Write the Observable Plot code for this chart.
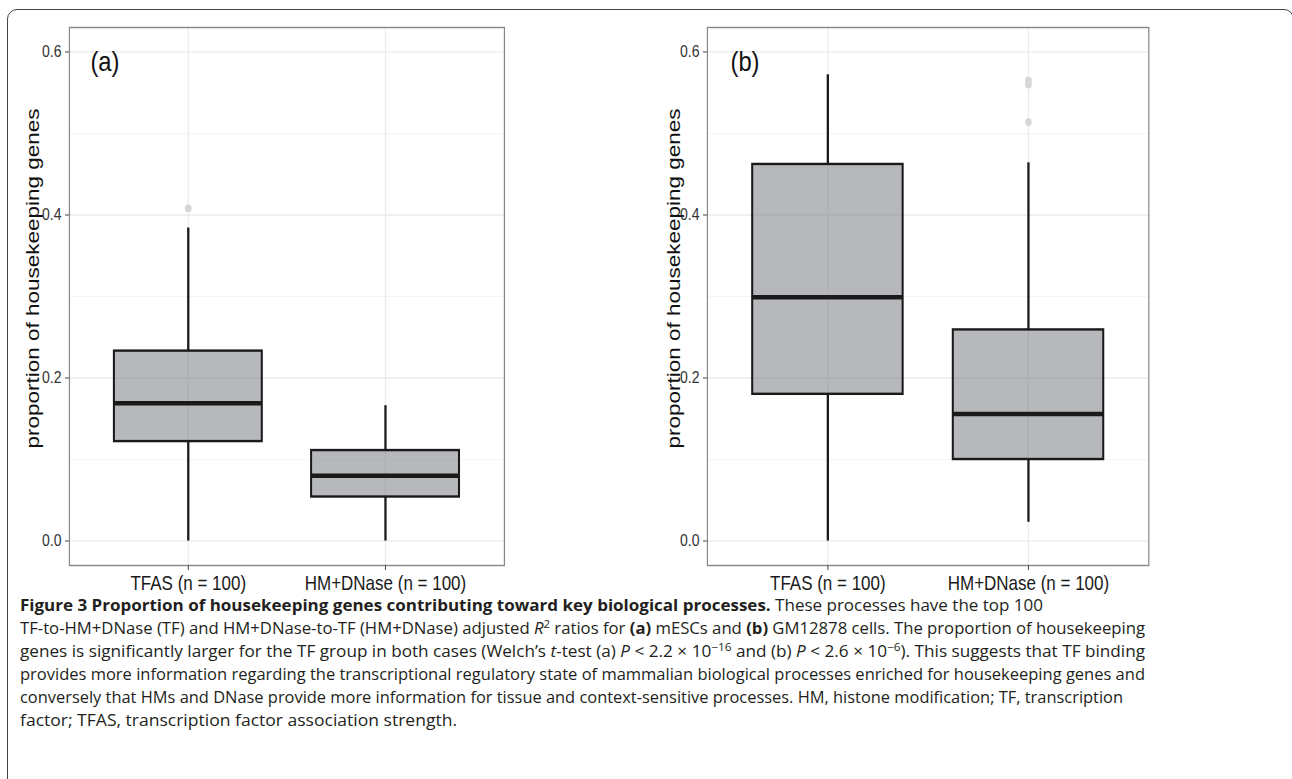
<!DOCTYPE html>
<html>
<head>
<meta charset="utf-8">
<script src="https://cdn.jsdelivr.net/npm/d3@7"></script>
<script src="https://cdn.jsdelivr.net/npm/@observablehq/plot@0.6"></script>
<style>
  html, body { margin: 0; padding: 0; background: #fff; }
  body { width: 1292px; height: 779px; position: relative; overflow: hidden; }
  #frame { position: absolute; left: 7px; top: 9px; width: 1287px; height: 790px; box-sizing: border-box;
           border: 1.5px solid #444; border-radius: 10px; }
  .panel { position: absolute; top: 0; width: 800px; height: 605px; transform-origin: 0 0; transform: scaleX(0.85); }
  .panel svg { max-width: none !important; height: 605px !important; }
  #caption { position: absolute; left: 20px; top: 593.5px; font-family: "Open Sans", sans-serif; font-size: 16px;
             line-height: 23px; color: #231f20; white-space: nowrap; }
  #caption div { white-space: nowrap; width: max-content; transform-origin: 0 0; }
  #caption sup { font-size: 11px; line-height: 0; vertical-align: 6px; }
</style>
</head>
<body>
<div id="frame"></div>
<div id="pa" class="panel" style="left:0px"></div>
<div id="pb" class="panel" style="left:640px"></div>
<div id="caption">
  <div data-w="1043"><b>Figure 3 Proportion of housekeeping genes contributing toward key biological processes.</b> These processes have the top 100</div>
  <div data-w="1145">TF-to-HM+DNase (TF) and HM+DNase-to-TF (HM+DNase) adjusted <i>R</i><sup>2</sup> ratios for <b>(a)</b> mESCs and <b>(b)</b> GM12878 cells. The proportion of housekeeping</div>
  <div data-w="1145">genes is significantly larger for the TF group in both cases (Welch’s <i>t</i>-test (a) <i>P</i> &lt; 2.2 × 10<sup>−16</sup> and (b) <i>P</i> &lt; 2.6 × 10<sup>−6</sup>). This suggests that TF binding</div>
  <div data-w="1145">provides more information regarding the transcriptional regulatory state of mammalian biological processes enriched for housekeeping genes and</div>
  <div data-w="1123">conversely that HMs and DNase provide more information for tissue and context-sensitive processes. HM, histone modification; TF, transcription</div>
  <div data-w="457">factor; TFAS, transcription factor association strength.</div>
</div>
<script>
// ---- data ----
const categories = ["TFAS (n = 100)", "HM+DNase (n = 100)"];
const panelLabels = ["(a)", "(b)"];
const yLabel = "proportion of housekeeping genes";
const yTicks = [0.0, 0.2, 0.4, 0.6];
const yMinorTicks = [0.1, 0.3, 0.5];

// panel (a): mESCs
const lowerA = [0.000, 0.000];
const q1A = [0.122, 0.054];
const medianA = [0.169, 0.080];
const q3A = [0.233, 0.111];
const upperA = [0.384, 0.166];
const outliersA = [[0.408], []];

// panel (b): GM12878
const lowerB = [0.000, 0.023];
const q1B = [0.180, 0.100];
const medianB = [0.299, 0.156];
const q3B = [0.462, 0.259];
const upperB = [0.572, 0.464];
const outliersB = [[], [0.565, 0.560, 0.514]];

const S = 0.85; // horizontal compression of the figure

function panel(label, lo, q1, med, q3, hi, outl, opt) {
  const rows = categories.map((c, i) => ({cat: c, lo: lo[i], q1: q1[i], med: med[i], q3: q3[i], hi: hi[i]}));
  const pts = categories.flatMap((c, i) => outl[i].map(v => ({cat: c, v})));
  const dark = "#1a1a1a";
  return Plot.plot({
    width: opt.width / S,
    height: 605,
    marginLeft: opt.left / S,
    marginRight: (opt.width - opt.right) / S,
    marginTop: 27,
    marginBottom: 40,
    style: {fontFamily: "'Liberation Sans', Arial, sans-serif", fontSize: "16.5px", color: "#333", background: "transparent", overflow: "visible"},
    x: {type: "band", domain: categories, paddingInner: 0.25, paddingOuter: 0.225, axis: null},
    y: {domain: [-0.03, 0.63], axis: null},
    marks: [
      Plot.ruleY(yMinorTicks, {stroke: "#f3f3f3", strokeWidth: 0.9}),
      Plot.ruleY(yTicks, {stroke: "#ebebeb", strokeWidth: 1.3}),
      Plot.ruleX(categories, {x: d => d, stroke: "#ebebeb", strokeWidth: 1.5}),
      Plot.ruleX(rows, {x: "cat", y1: "q3", y2: "hi", stroke: dark, strokeWidth: 2.7}),
      Plot.ruleX(rows, {x: "cat", y1: "lo", y2: "q1", stroke: dark, strokeWidth: 2.7}),
      Plot.barY(rows, {x: "cat", y1: "q1", y2: "q3", fill: "#6f7177", fillOpacity: 0.5, stroke: dark, strokeWidth: 2.4}),
      Plot.tickY(rows, {x: "cat", y: "med", stroke: dark, strokeWidth: 4.5}),
      Plot.dot(pts, {x: "cat", y: "v", r: 3.9, fill: "#d6d6d6", stroke: null}),
      Plot.frame({stroke: "#858585", strokeWidth: 1.4}),
      Plot.text([yLabel], {text: d => d, frameAnchor: "left", rotate: -90, textAnchor: "middle", lineAnchor: "middle", dx: opt.yLabelDx, dy: -18, fontSize: 22.5, fill: "#111"}),
      Plot.axisY({ticks: yTicks, tickFormat: d3.format(".1f"), tickSize: 4.7, tickPadding: 4.7, label: null, stroke: "#333", fill: "#333", fontSize: 16.5}),
      Plot.axisX({tickSize: 5, tickPadding: 5.5, label: null, stroke: "#333", fill: "#1a1a1a", fontSize: 20}),
      Plot.text([label], {text: d => d, frameAnchor: "top-left", textAnchor: "start", lineAnchor: "middle", dx: opt.labelDx, dy: 35, fontSize: 28, fill: "#111"})
    ]
  });
}

document.getElementById("pa").appendChild(panel(panelLabels[0], lowerA, q1A, medianA, q3A, upperA, outliersA,
  {width: 640, left: 69, right: 504, labelDx: 24.7, yLabelDx: -43.5}));
document.getElementById("pb").appendChild(panel(panelLabels[1], lowerB, q1B, medianB, q3B, upperB, outliersB,
  {width: 652, left: 67, right: 508.4, labelDx: 27.1, yLabelDx: -39.5}));

// fit each caption line to the reference line length
document.querySelectorAll("#caption div").forEach(div => {
  const w = div.getBoundingClientRect().width;
  const target = +div.dataset.w - 20;
  div.style.transform = `scaleX(${target / w})`;
});
</script>
</body>
</html>
